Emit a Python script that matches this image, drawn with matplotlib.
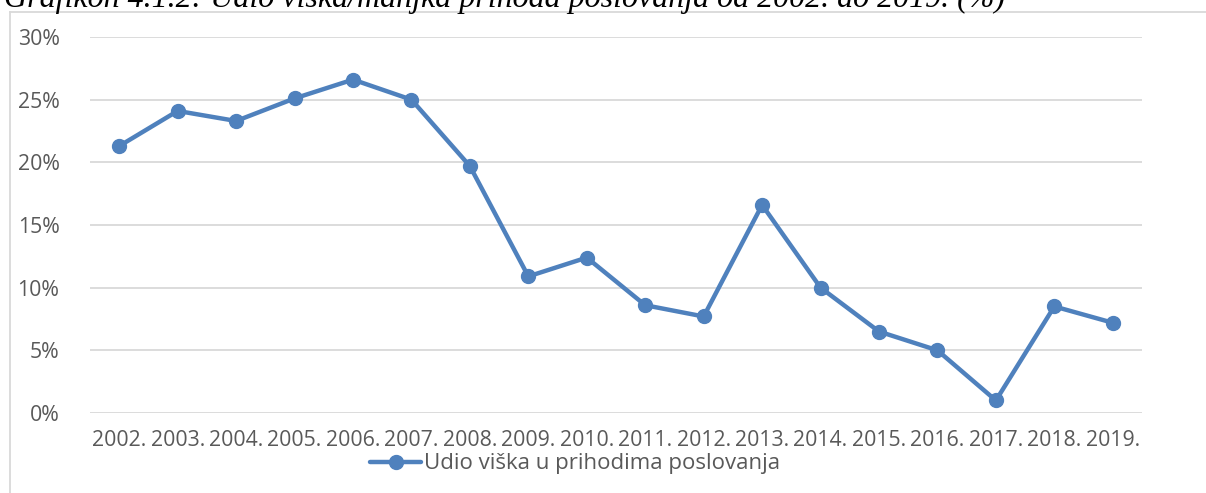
import matplotlib
matplotlib.use("Agg")
import matplotlib.pyplot as plt
from matplotlib.lines import Line2D
from matplotlib.ticker import FuncFormatter

years = ["2002.", "2003.", "2004.", "2005.", "2006.", "2007.", "2008.", "2009.", "2010.",
         "2011.", "2012.", "2013.", "2014.", "2015.", "2016.", "2017.", "2018.", "2019."]
values = [21.3, 24.1, 23.3, 25.1, 26.6, 25.0, 19.7, 10.9, 12.4,
          8.6, 7.7, 16.6, 10.0, 6.5, 5.0, 1.0, 8.5, 7.2]
series_name = "Udio viška u prihodima poslovanja"
title = "Grafikon 4.1.2: Udio viška/manjka prihoda poslovanja od 2002. do 2019. (%)"

W, H = 1206, 493
fig = plt.figure(figsize=(W / 100, H / 100), dpi=100)
ax = fig.add_axes([90 / W, 1 - 413 / H, (1142 - 90) / W, (413 - 37) / H])

blue = "#4f81bd"
grey_txt = "#595959"
font = "Open Sans"
x = list(range(len(years)))
ax.plot(x, values, color=blue, lw=3.2, marker="o", ms=10, label=series_name,
        solid_capstyle="round", zorder=3, clip_on=False)

ax.set_xlim(-0.5, len(years) - 0.5)
ax.set_ylim(0, 30)
ax.set_yticks([0, 5, 10, 15, 20, 25, 30])
ax.yaxis.set_major_formatter(FuncFormatter(lambda v, p: f"{int(v)}%"))
ax.set_xticks(x)
ax.set_xticklabels(years)
ax.grid(axis="y", color="#d9d9d9", lw=1.3)
ax.set_axisbelow(True)
for s in ax.spines.values():
    s.set_visible(False)
ax.tick_params(axis="both", length=0, colors=grey_txt, labelsize=15.3)
ax.tick_params(axis="y", pad=22)
ax.tick_params(axis="x", pad=12)
for lab in ax.get_xticklabels() + ax.get_yticklabels():
    lab.set_fontfamily(font)

leg = fig.legend(loc="center", bbox_to_anchor=(575 / W, 1 - 464 / H), frameon=False,
                 prop={"family": font, "size": 16}, handlelength=2.3, handletextpad=0.1,
                 borderpad=0, borderaxespad=0)
for t in leg.get_texts():
    t.set_color(grey_txt)

# outer chart frame (partially visible)
fig.add_artist(Line2D([10 / W, 1], [1 - 12 / H, 1 - 12 / H], transform=fig.transFigure,
                      color="#d9d9d9", lw=1.3))
fig.add_artist(Line2D([10 / W, 10 / W], [0, 1 - 12 / H], transform=fig.transFigure,
                      color="#d9d9d9", lw=1.3))

# cropped caption at top
fig.text(4 / W, 1 - 7 / H, title, fontsize=23, fontstyle="italic",
         fontfamily="Liberation Serif", color="black", va="baseline", ha="left")

fig.savefig("out.png", dpi=100)
